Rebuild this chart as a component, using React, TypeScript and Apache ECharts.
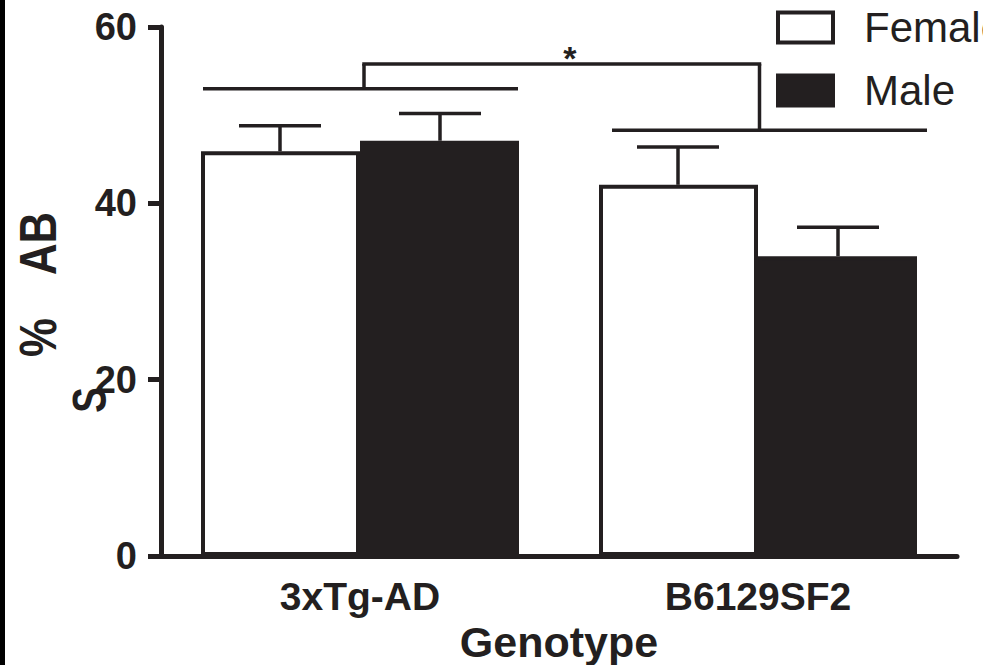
import React, { useEffect, useRef } from "react";
import * as echarts from "echarts";

const categories = ["3xTg-AD", "B6129SF2"];
const seriesNames = ["Female", "Male"];
const femaleMeans = [45.9, 42.1];
const femaleSem = [2.9, 4.3];
const maleMeans = [47.1, 34.0];
const maleSem = [3.1, 3.3];
const yTicks = [0, 20, 40, 60];
const bracketLows = [53.0, 48.3];
const bracketHigh = 55.8;
const starValue = 57.4;
const significance = "*";

const INK = "#231f20";
const FONT = "'Liberation Sans', Arial, Helvetica, sans-serif";
const BAR_W = 159;
const HALF = 80;
const CAP = 41;
const SPANS = [
  [-157, 158],
  [-146, 169],
];
const STEM_OFF = [4, 1.5];

export default function App() {
  const ref = useRef<HTMLDivElement>(null);
  useEffect(() => {
    if (!ref.current) return;
    const chart = echarts.init(ref.current, undefined, { renderer: "svg" });

    const errSeries = (means: number[], sems: number[], off: number) => ({
      type: "custom",
      z: 4,
      clip: false,
      silent: true,
      data: means.map((m, i) => [i, m, sems[i]]),
      renderItem: (_p: any, api: any) => {
        const cat = api.value(0);
        const mean = api.value(1);
        const top = mean + api.value(2);
        const b = api.coord([cat, mean]);
        const c = api.coord([cat, top]);
        const x = b[0] + off;
        return {
          type: "group",
          children: [
            { type: "line", shape: { x1: x, y1: b[1], x2: x, y2: c[1] }, style: { stroke: INK, lineWidth: 3.5 } },
            { type: "line", shape: { x1: x - CAP, y1: c[1], x2: x + CAP, y2: c[1] }, style: { stroke: INK, lineWidth: 3.5 } },
          ],
        };
      },
    });

    const option: any = {
      animation: false,
      backgroundColor: "#ffffff",
      textStyle: { fontFamily: FONT },
      grid: { left: 161, right: 26, top: 27, bottom: 109, containLabel: false, outerBoundsMode: "none" },
      legend: {
        orient: "vertical",
        left: 776,
        top: 6.5,
        padding: 0,
        itemWidth: 55,
        itemHeight: 30,
        itemGap: 21,
        icon: "rect",
        selectedMode: false,
        textStyle: { fontSize: 42, color: INK, fontFamily: FONT, padding: [0, 0, 0, 26] },
        data: [
          { name: seriesNames[0], itemStyle: { color: "#ffffff", borderColor: INK, borderWidth: 4 } },
          { name: seriesNames[1], itemStyle: { color: INK, borderColor: INK, borderWidth: 4 } },
        ],
      },
      xAxis: {
        type: "category",
        data: categories,
        axisLine: { lineStyle: { color: INK, width: 5 } },
        axisTick: { alignWithLabel: true, length: 16, lineStyle: { color: INK, width: 4 } },
        axisLabel: { color: INK, fontSize: 39, fontWeight: "bold", fontFamily: FONT, margin: 21 },
        name: "Genotype",
        nameLocation: "middle",
        nameGap: 53,
        nameTextStyle: { color: INK, fontSize: 43, fontWeight: "bold", fontFamily: FONT },
      },
      yAxis: {
        type: "value",
        min: yTicks[0],
        max: yTicks[yTicks.length - 1],
        interval: yTicks[1] - yTicks[0],
        splitLine: { show: false },
        axisLine: { show: true, lineStyle: { color: INK, width: 5 } },
        axisTick: { show: true, length: 13, lineStyle: { color: INK, width: 5 } },
        axisLabel: { color: INK, fontSize: 38, fontWeight: "bold", fontFamily: FONT, margin: 24 },
      },
      series: [
        {
          name: seriesNames[0],
          type: "bar",
          barWidth: BAR_W,
          barGap: "0%",
          z: 2,
          data: femaleMeans,
          itemStyle: { color: "#ffffff", borderColor: INK, borderWidth: 4 },
        },
        {
          name: seriesNames[1],
          type: "bar",
          barWidth: BAR_W,
          barGap: "0%",
          z: 2,
          data: maleMeans,
          itemStyle: { color: INK, borderColor: INK, borderWidth: 4 },
        },
        errSeries(femaleMeans, femaleSem, -HALF),
        errSeries(maleMeans, maleSem, HALF),
        {
          type: "custom",
          z: 4,
          clip: false,
          silent: true,
          data: bracketLows.map((v, i) => [i, v]),
          renderItem: (_p: any, api: any) => {
            const i = api.value(0);
            const low = api.coord([i, api.value(1)]);
            const high = api.coord([i, bracketHigh]);
            const sx = low[0] + STEM_OFF[i];
            const children: any[] = [
              { type: "line", shape: { x1: low[0] + SPANS[i][0], y1: low[1], x2: low[0] + SPANS[i][1], y2: low[1] }, style: { stroke: INK, lineWidth: 3.5 } },
              { type: "line", shape: { x1: sx, y1: low[1], x2: sx, y2: high[1] }, style: { stroke: INK, lineWidth: 3.5 } },
            ];
            if (i === 0) {
              const other = api.coord([1, bracketHigh]);
              const ox = other[0] + STEM_OFF[1];
              children.push({
                type: "line",
                shape: { x1: sx - 1.75, y1: high[1], x2: ox + 1.75, y2: high[1] },
                style: { stroke: INK, lineWidth: 3.5 },
              });
              const star = api.coord([0, starValue]);
              children.push({
                type: "text",
                x: (sx + ox) / 2 + 8,
                y: star[1] + 8,
                style: { text: significance, fontSize: 34, fontWeight: "bold", fontFamily: FONT, fill: INK, textAlign: "center", textVerticalAlign: "middle" },
              });
            }
            return { type: "group", children };
          },
        },
      ],
      graphic: [
        { type: "rect", left: 0, top: 0, shape: { width: 5, height: 665 }, style: { fill: "#000000" } },
        {
          type: "text", x: 38, y: 243.5, rotation: Math.PI / 2, scaleX: 0.84,
          style: { text: "AB", fontSize: 52, fontWeight: "bold", fontFamily: FONT, fill: INK, textAlign: "center", textVerticalAlign: "middle" },
        },
        {
          type: "text", x: 38, y: 337.5, rotation: Math.PI / 2, scaleX: 0.84,
          style: { text: "%", fontSize: 52, fontWeight: "bold", fontFamily: FONT, fill: INK, textAlign: "center", textVerticalAlign: "middle" },
        },
        {
          type: "text", x: 89.5, y: 400, rotation: Math.PI / 2, scaleX: 0.8,
          style: { text: "S", fontSize: 48, fontWeight: "bold", fontFamily: FONT, fill: INK, textAlign: "center", textVerticalAlign: "middle" },
        },
      ],
    };

    chart.setOption(option);
    return () => chart.dispose();
  }, []);

  return (
    <div
      ref={ref}
      style={{ position: "absolute", left: 0, top: 0, width: 983, height: 665, background: "#ffffff" }}
    />
  );
}
